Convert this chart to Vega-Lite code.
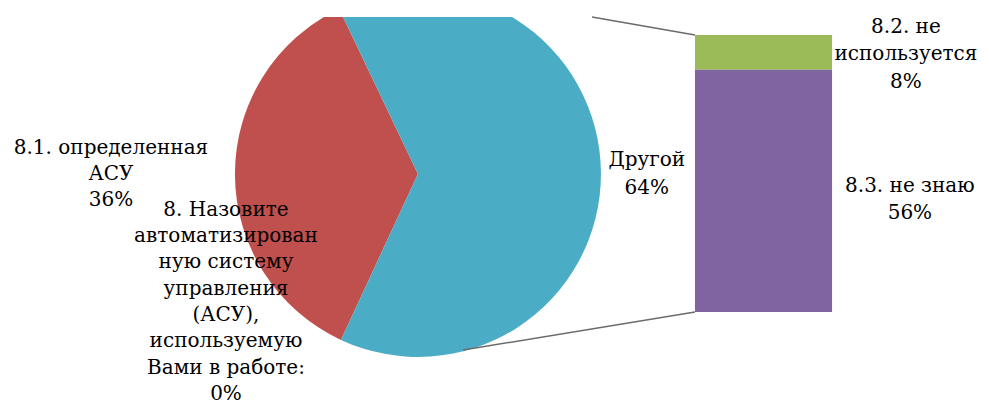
{
  "$schema": "https://vega.github.io/schema/vega-lite/v6.json",
  "autosize": "none",
  "width": 989,
  "height": 391,
  "padding": {"top": 17, "left": 0, "right": 0, "bottom": 0},
  "background": "white",
  "config": {"view": {"stroke": null}},
  "datasets": {
    "pie": [
      {"segment": "8.1. определенная АСУ", "value": 36},
      {"segment": "Другой", "value": 64}
    ],
    "bar": [
      {"segment": "8.2. не используется", "value": 8},
      {"segment": "8.3. не знаю", "value": 56}
    ],
    "one": [{}]
  },
  "layer": [
    {
      "data": {"name": "pie"},
      "mark": {"type": "arc", "radius": 183, "clip": true, "stroke": null},
      "encoding": {
        "x": {"datum": 42.26, "type": "quantitative", "scale": {"domain": [0, 100], "nice": false, "zero": false}, "axis": null},
        "y": {"datum": 31.9, "type": "quantitative", "scale": {"domain": [-22.18, 68.16], "nice": false, "zero": false}, "axis": null},
        "theta": {"field": "value", "type": "quantitative", "stack": true, "scale": {"range": [-0.445, 5.838]}},
        "order": {"field": "segment", "sort": "descending"},
        "color": {
          "field": "segment", "type": "nominal", "legend": null,
          "scale": {
            "domain": ["8.1. определенная АСУ", "Другой", "8.2. не используется", "8.3. не знаю"],
            "range": ["#C0504D", "#4BACC6", "#9BBB59", "#8064A2"]
          }
        }
      }
    },
    {
      "data": {"name": "bar"},
      "transform": [
        {"stack": "value", "groupby": [], "as": ["y0", "y1"], "sort": [{"field": "segment", "order": "descending"}]}
      ],
      "mark": {"type": "rect"},
      "encoding": {
        "x": {"datum": 70.27, "type": "quantitative"},
        "x2": {"datum": 84.13},
        "y": {"field": "y0", "type": "quantitative"},
        "y2": {"field": "y1"},
        "color": {"field": "segment", "type": "nominal", "legend": null}
      }
    },
    {
      "data": {"name": "one"},
      "mark": {"type": "rule", "color": "#6b6b6b", "strokeWidth": 1.5},
      "encoding": {
        "x": {"datum": 59.86, "type": "quantitative"},
        "y": {"datum": 68.16, "type": "quantitative"},
        "x2": {"datum": 70.27},
        "y2": {"datum": 64}
      }
    },
    {
      "data": {"name": "one"},
      "mark": {"type": "rule", "color": "#6b6b6b", "strokeWidth": 1.5},
      "encoding": {
        "x": {"datum": 46.82, "type": "quantitative"},
        "y": {"datum": -8.78, "type": "quantitative"},
        "x2": {"datum": 70.27},
        "y2": {"datum": 0}
      }
    },
    {
      "data": {"name": "one"},
      "mark": {"type": "text", "font": "DejaVu Serif", "fontSize": 20, "lineHeight": 26, "align": "center", "baseline": "middle", "color": "#000000",
        "text": ["8.1. определенная", "АСУ", "36%"]},
      "encoding": {
        "x": {"datum": 11.22, "type": "quantitative"},
        "y": {"datum": 37.89, "type": "quantitative"}
      }
    },
    {
      "data": {"name": "one"},
      "mark": {"type": "text", "font": "DejaVu Serif", "fontSize": 20, "lineHeight": 26.3, "align": "center", "baseline": "middle", "color": "#000000",
        "text": ["8. Назовите", "автоматизирован", "ную систему", "управления", "(АСУ),", "используемую", "Вами в работе:", "0%"]},
      "encoding": {
        "x": {"datum": 22.85, "type": "quantitative"},
        "y": {"datum": 23.6, "type": "quantitative"}
      }
    },
    {
      "data": {"name": "one"},
      "mark": {"type": "text", "font": "DejaVu Serif", "fontSize": 20, "lineHeight": 28, "align": "center", "baseline": "middle", "color": "#000000",
        "text": ["Другой", "64%"]},
      "encoding": {
        "x": {"datum": 65.4, "type": "quantitative"},
        "y": {"datum": 35.12, "type": "quantitative"}
      }
    },
    {
      "data": {"name": "one"},
      "mark": {"type": "text", "font": "DejaVu Serif", "fontSize": 20, "lineHeight": 27.5, "align": "center", "baseline": "middle", "color": "#000000",
        "text": ["8.2. не", "используется", "8%"]},
      "encoding": {
        "x": {"datum": 91.6, "type": "quantitative"},
        "y": {"datum": 65.85, "type": "quantitative"}
      }
    },
    {
      "data": {"name": "one"},
      "mark": {"type": "text", "font": "DejaVu Serif", "fontSize": 20, "lineHeight": 27, "align": "center", "baseline": "middle", "color": "#000000",
        "text": ["8.3. не знаю", "56%"]},
      "encoding": {
        "x": {"datum": 92.0, "type": "quantitative"},
        "y": {"datum": 29.11, "type": "quantitative"}
      }
    }
  ]
}
